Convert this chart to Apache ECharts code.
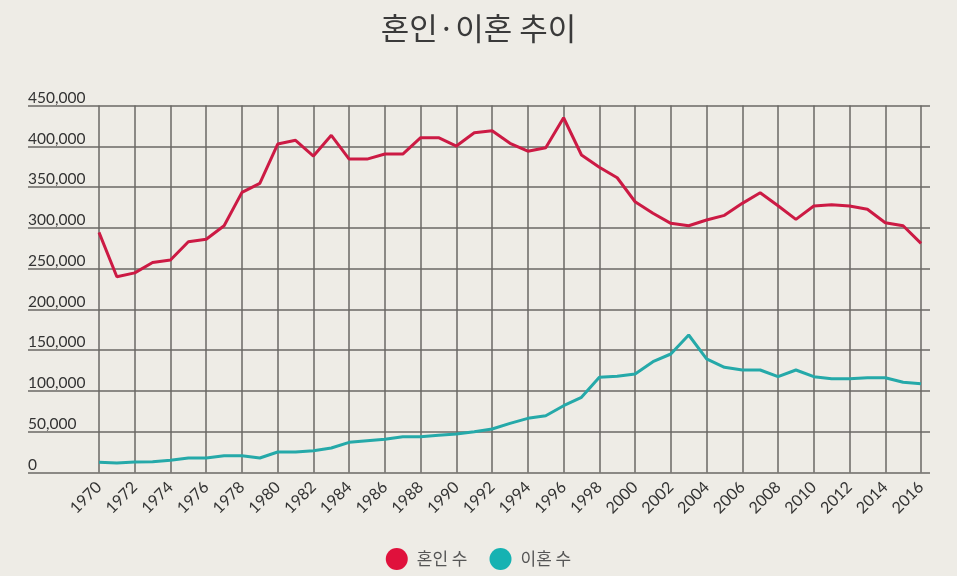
<!DOCTYPE html>
<html>
<head>
<meta charset="utf-8">
<script src="https://cdn.jsdelivr.net/npm/echarts@6/dist/echarts.min.js"></script>
<style>
html,body{margin:0;padding:0;background:#eeece6;}
#chart{width:957px;height:576px;}
</style>
</head>
<body>
<div id="chart"></div>
<script>
var years = [];
for (var y = 1970; y <= 2016; y++) years.push(String(y));

var marriages = [294500, 240000, 244800, 257500, 260500, 283000, 286000, 302600, 343500, 354600,
  402700, 407300, 388000, 413400, 384300, 384300, 390500, 390500, 410500, 410500,
  400300, 416600, 419000, 403600, 394000, 398200, 435000, 389300, 374200, 361400,
  332000, 317800, 305500, 302600, 309600, 315300, 330000, 343000, 327100, 310400,
  326700, 328300, 326700, 322700, 306300, 302600, 281000];

var divorces = [12500, 11600, 13000, 13200, 15000, 17800, 17800, 20600, 20600, 17800,
  25100, 25100, 26700, 30000, 37000, 39000, 40700, 43900, 43900, 45600,
  47200, 50000, 53300, 60300, 66400, 69600, 81900, 92200, 116700, 118000,
  120800, 135800, 145300, 168600, 139200, 129000, 125700, 125700, 117500, 125700,
  117500, 115000, 115000, 116200, 116200, 110600, 108900];

var seriesNames = ['혼인 수', '이혼 수'];
var titleText = '혼인·이혼 추이';

var numFont = 'Lato, "Noto Sans CJK KR", sans-serif';
var gridColor = '#6a6864';

var chart = echarts.init(document.getElementById('chart'));
chart.setOption({
  backgroundColor: '#eeece6',
  animation: false,
  title: {
    text: titleText,
    left: 'center',
    top: 8,
    textStyle: { fontFamily: '"Noto Sans CJK KR", sans-serif', fontSize: 31, fontWeight: 'normal', color: '#3a3a3a' }
  },
  legend: {
    bottom: 1,
    left: 'center',
    icon: 'circle',
    itemWidth: 22,
    itemHeight: 22,
    itemGap: 22,
    data: seriesNames,
    textStyle: { fontFamily: '"Noto Sans CJK KR", sans-serif', fontSize: 17, color: '#555', padding: [0, 0, 0, 4] }
  },
  grid: [
    { left: 28, right: 27, top: 105.5, bottom: 103.5 },
    { left: 99, right: 36, top: 105.5, bottom: 103.5 }
  ],
  xAxis: [
    { gridIndex: 0, type: 'value', show: false, min: 0, max: 1 },
    {
      gridIndex: 1, type: 'category', data: years, boundaryGap: false,
      axisLine: { show: false },
      axisTick: { show: false },
      splitLine: { show: true, interval: 1, lineStyle: { color: gridColor, width: 1.5 } },
      axisLabel: { interval: 1, rotate: 45, margin: 12, fontSize: 16, color: '#333', fontFamily: numFont }
    }
  ],
  yAxis: [
    {
      gridIndex: 0, type: 'value', min: 0, max: 450000, interval: 50000,
      axisLine: { show: false }, axisTick: { show: false },
      splitLine: { show: true, lineStyle: { color: gridColor, width: 1.5 } },
      axisLabel: {
        inside: true, verticalAlign: 'bottom', margin: 0, fontSize: 15.5, color: '#333', fontFamily: numFont,
        formatter: function (v) { return v.toLocaleString('en-US'); }
      }
    },
    { gridIndex: 1, type: 'value', min: 0, max: 450000, interval: 50000, show: false, splitLine: { show: false } }
  ],
  series: [
    {
      name: seriesNames[0], type: 'line', xAxisIndex: 1, yAxisIndex: 1, data: marriages,
      showSymbol: false, symbol: 'circle', color: '#e0113c',
      lineStyle: { color: '#cc1a44', width: 3 }, z: 5
    },
    {
      name: seriesNames[1], type: 'line', xAxisIndex: 1, yAxisIndex: 1, data: divorces,
      showSymbol: false, symbol: 'circle', color: '#16b2b2',
      lineStyle: { color: '#25a9a9', width: 3 }, z: 5
    }
  ]
});
</script>
</body>
</html>
